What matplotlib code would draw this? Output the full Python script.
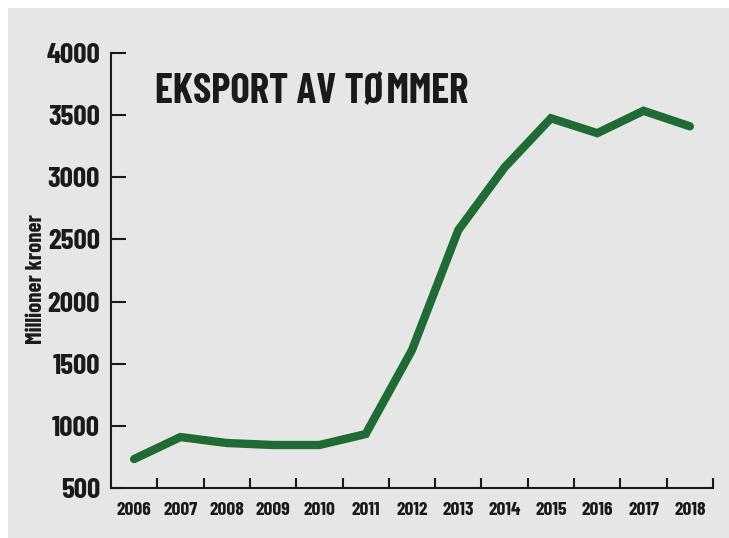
import matplotlib
matplotlib.use("Agg")
import matplotlib.pyplot as plt
from matplotlib.patches import Rectangle
from matplotlib.ticker import FixedLocator

plt.rcParams['font.family'] = ['Barlow Condensed', 'DejaVu Sans']
plt.rcParams['font.weight'] = 'bold'

# data
years = ['2006', '2007', '2008', '2009', '2010', '2011', '2012',
         '2013', '2014', '2015', '2016', '2017', '2018']
eksport = [733, 910, 862, 846, 846, 934, 1610,
           2575, 3080, 3475, 3355, 3535, 3410]
y_ticks = [500, 1000, 1500, 2000, 2500, 3000, 3500, 4000]

bg = '#e6e6e6'
green = '#1f6a35'
ink = '#1a1a1a'

fig = plt.figure(figsize=(7.29, 5.38), dpi=100)
fig.patch.set_facecolor('white')
# grey panel, leaves a thin white strip top and left
fig.add_artist(Rectangle((8 / 729, 0), 1, 1 - 8 / 538, transform=fig.transFigure,
                         facecolor=bg, edgecolor='none', zorder=-10))

ax = fig.add_axes([111 / 729, 50 / 538, (713 - 111) / 729, (488 - 53) / 538])
ax.set_facecolor('none')

x = list(range(len(years)))
ax.plot(x, eksport, color=green, lw=6, solid_joinstyle='miter',
        solid_capstyle='round', zorder=3)

ax.set_xlim(-0.5, len(years) - 0.5)
ax.set_ylim(500, 4000)

for s in ['top', 'right']:
    ax.spines[s].set_visible(False)
for s in ['left', 'bottom']:
    ax.spines[s].set_linewidth(1.5)
    ax.spines[s].set_color(ink)

ax.set_yticks(y_ticks)
ax.set_yticklabels([str(v) for v in y_ticks], fontsize=21)
ax.tick_params(axis='y', direction='in', length=11, width=1.5, color=ink, pad=8,
               labelcolor=ink)

ax.set_xticks(x)
ax.set_xticklabels(years, fontsize=14)
ax.tick_params(axis='x', which='major', length=0, pad=10, labelcolor=ink)
ax.xaxis.set_minor_locator(FixedLocator([i + 0.5 for i in x]))
ax.tick_params(axis='x', which='minor', direction='in', length=7.5, width=1.5, color=ink)

ax.set_ylabel('Millioner kroner', fontsize=16.5, fontweight='bold', color=ink)
ax.yaxis.set_label_coords(-0.108, 0.48)

fig.text(155 / 729, 1 - 103 / 538, 'EKSPORT AV TØMMER', fontsize=29.5,
         fontweight='bold', color=ink, ha='left', va='baseline')

fig.savefig('out.png', dpi=100)
